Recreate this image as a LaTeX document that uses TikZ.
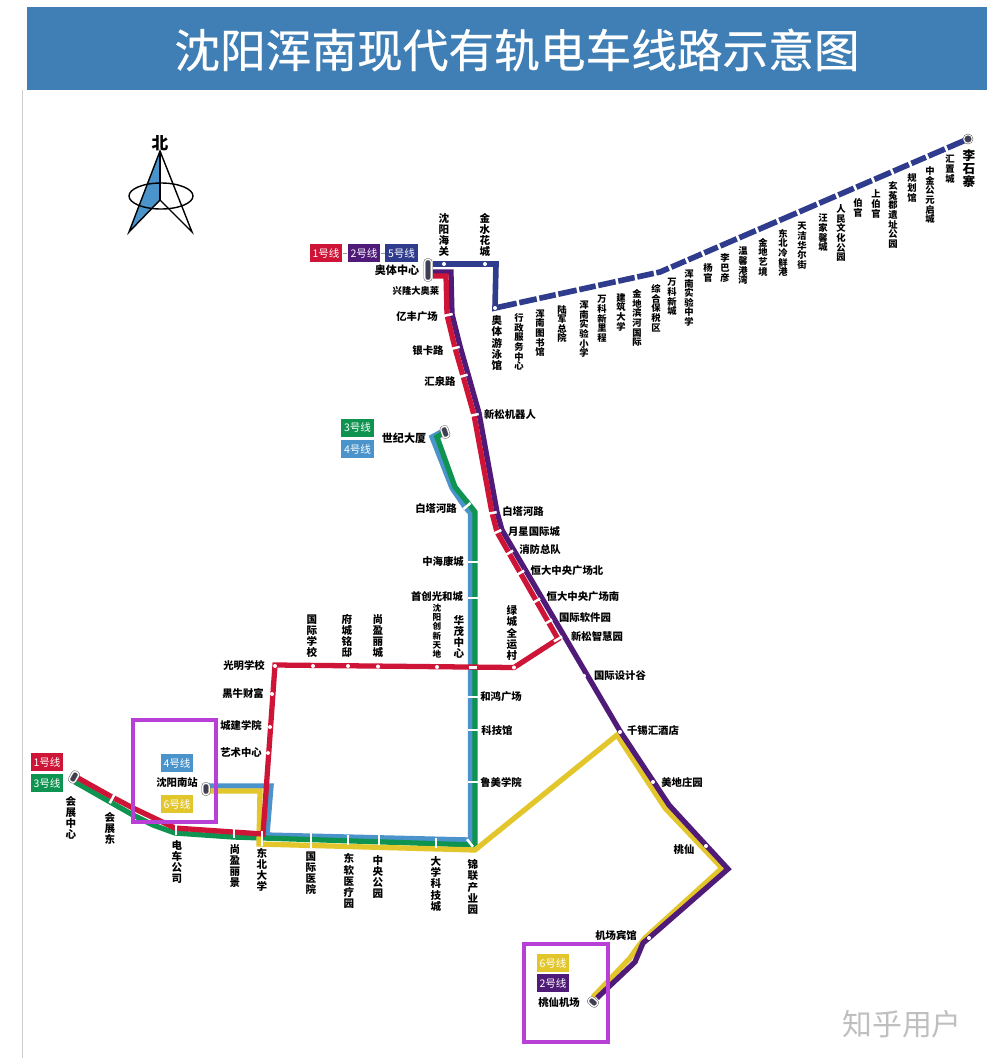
\documentclass[tikz,border=0pt]{standalone}
\usepackage{xcolor}
\usepackage{fontspec}
\newfontfamily\cjk{Noto Sans CJK SC}
\newfontfamily\cjkfat[FakeBold=0.5]{Noto Sans CJK SC}
\XeTeXlinebreaklocale "zh"
\XeTeXlinebreakskip=0pt plus 1pt
\definecolor{myheader}{HTML}{3F7FB5}
\definecolor{myred}{HTML}{CE1437}
\definecolor{mypurple}{HTML}{4F1A78}
\definecolor{mynavy}{HTML}{2F3B8C}
\definecolor{mygreen}{HTML}{0F9350}
\definecolor{mysky}{HTML}{4A93CB}
\definecolor{myyellow}{HTML}{E3C62B}
\definecolor{mymagenta}{HTML}{B840D6}
\definecolor{mycapsule}{HTML}{3E3E55}
\begin{document}
\begin{tikzpicture}[x=0.02cm,y=-0.02cm]
	\tikzset{% This is the style settings for lines, stops and labels
		linebase/.style={line width=3pt},
		lineone/.style={linebase,draw=myred},
		linetwo/.style={linebase,draw=mypurple},
		linethree/.style={linebase,draw=mygreen},
		linefour/.style={linebase,draw=mysky},
		linefive/.style={linebase,line width=3.2pt,draw=mynavy},
		linesix/.style={linebase,draw=myyellow},
		tick/.style={rectangle,fill=white,minimum width=0.05cm,minimum height=0.19cm,inner sep=0pt},
		dot/.style={circle,fill=white,minimum size=0.08cm,inner sep=0pt},
		capsule/.style={rectangle,rounded corners=0.05cm,fill=mycapsule,draw=black!60,line width=0.3pt,double=white,double distance=0.7pt,minimum width=0.13cm,minimum height=0.22cm,inner sep=0pt},
		hlabel/.style={inner sep=0pt,font=\cjk\bfseries\fontsize{5.9}{6.2}\selectfont},
		hsmall/.style={inner sep=0pt,font=\cjk\bfseries\fontsize{5.3}{6}\selectfont},
		vlabel/.style={inner sep=0pt,text width=7pt,align=center,font=\cjk\bfseries\fontsize{6}{6.3}\selectfont},
		vsmall/.style={inner sep=0pt,text width=7pt,align=center,font=\cjk\bfseries\fontsize{5.3}{5.5}\selectfont},
		badge/.style={minimum width=0.65cm,minimum height=0.36cm,inner sep=0pt,text=white,font=\cjk\fontsize{6}{6}\selectfont},
		framebox/.style={draw=mymagenta,line width=1.8pt}}
	\useasboundingbox (0,0) rectangle (988,1058);
	\fill[white] (0,0) rectangle (988,1058);
	\draw[black!20,line width=0.5pt] (22,90) -- (22,1058);

	\node[fill=myheader,minimum width=19.2cm,minimum height=1.66cm,inner sep=0pt] (header) at (507,48.5) {};
	\node[text=white,inner sep=0pt,font=\cjkfat\fontsize{26}{26}\selectfont] (title) at (517,50) {沈阳浑南现代有轨电车线路示意图};

	% north arrow
	\node[inner sep=0pt,font=\cjk\bfseries\fontsize{9.5}{9.5}\selectfont] (north) at (160,143) {北};
	\coordinate (tip) at (160,151);
	\coordinate (hub) at (160,200);
	\coordinate (footl) at (129,232);
	\coordinate (footr) at (192,232);
	\fill[mysky] (tip) -- (footl) -- (hub) -- cycle;
	\draw[line width=0.8pt] (161,196) ellipse (32 and 13);
	\draw[line width=0.8pt] (footl) -- (tip) -- (footr) -- (hub) -- cycle;
	\draw[line width=0.8pt] (tip) -- (hub);

	% way points
	\coordinate (n1) at (433,264);
	\coordinate (n2) at (496,264);
	\coordinate (n3) at (495,308);
	\coordinate (n4) at (660,272);
	\coordinate (n5) at (968,139);
	\coordinate (r1) at (78,778);
	\coordinate (r2) at (112,797);
	\coordinate (r3) at (133,808);
	\coordinate (r4) at (175,828);
	\coordinate (r5) at (233,832);
	\coordinate (r6) at (263,834);
	\coordinate (r7) at (275,665);
	\coordinate (r8) at (514,667.5);
	\coordinate (r9) at (558,639);
	\coordinate (r10) at (497,532);
	\coordinate (r11) at (492,513);
	\coordinate (r12) at (474,415);
	\coordinate (r13) at (463,376);
	\coordinate (r14) at (455,348);
	\coordinate (r15) at (447,315);
	\coordinate (r16) at (446,276);
	\coordinate (r17) at (433,276);
	\coordinate (p1) at (433,272);
	\coordinate (p2) at (451,272);
	\coordinate (p3) at (452,314);
	\coordinate (p4) at (460,346);
	\coordinate (p5) at (468,374);
	\coordinate (p6) at (479,413);
	\coordinate (p7) at (497,512);
	\coordinate (p8) at (502,530);
	\coordinate (p9) at (620,731);
	\coordinate (p10) at (669,805);
	\coordinate (p11) at (728,869);
	\coordinate (p12) at (649,938);
	\coordinate (p13) at (643,943);
	\coordinate (p14) at (635,962);
	\coordinate (p15) at (597,998);
	\coordinate (g1) at (75,782);
	\coordinate (g2) at (133,815);
	\coordinate (g3) at (153,825);
	\coordinate (g4) at (175,833);
	\coordinate (g5) at (233,837);
	\coordinate (g6) at (475,845);
	\coordinate (g7) at (475,512);
	\coordinate (g8) at (468,503);
	\coordinate (g9) at (455,487);
	\coordinate (g10) at (437,437);
	\coordinate (g11) at (445,432);
	\coordinate (b1) at (208,786);
	\coordinate (b2) at (271,786);
	\coordinate (b3) at (267,835);
	\coordinate (b4) at (470.5,840);
	\coordinate (b5) at (470.5,513);
	\coordinate (b6) at (465,507);
	\coordinate (b7) at (452,488);
	\coordinate (b8) at (432,437);
	\coordinate (b9) at (443,431);
	\coordinate (y1) at (208,791);
	\coordinate (y2) at (260,791);
	\coordinate (y3) at (259,844);
	\coordinate (y4) at (475,850);
	\coordinate (y5) at (617,735);
	\coordinate (y6) at (665,808);
	\coordinate (y7) at (722,868);
	\coordinate (y8) at (645,938);
	\coordinate (y9) at (637,948);
	\coordinate (y10) at (630,958);
	\coordinate (y11) at (593,997);

	% lines
	\draw[linefive] (n1) -- (n2) -- (n3) -- (n4) -- (n5);
	\draw[linefour] (b1) -- (b2) -- (b3) -- (b4) -- (b5) -- (b6) -- (b7) -- (b8) -- (b9);
	\draw[linethree] (g1) -- (g2) -- (g3) -- (g4) -- (g5) -- (g6) -- (g7) -- (g8) -- (g9) -- (g10) -- (g11);
	\draw[linesix] (y1) -- (y2) -- (y3) -- (y4) -- (y5) -- (y6) -- (y7) -- (y8) -- (y9) -- (y10) -- (y11);
	\draw[linetwo] (p1) -- (p2) -- (p3) -- (p4) -- (p5) -- (p6) -- (p7) -- (p8) -- (p9) -- (p10) -- (p11) -- (p12) -- (p13) -- (p14) -- (p15);
	\draw[lineone] (r1) -- (r2) -- (r3) -- (r4) -- (r5) -- (r6) -- (r7) -- (r8) -- (r9) -- (r10) -- (r11) -- (r12) -- (r13) -- (r14) -- (r15) -- (r16) -- (r17);

	% terminals
	\node[capsule,minimum height=0.42cm] (aoti) at (428,270) {};
	\node[capsule,rotate=18] (shiji) at (445,432) {};
	\node[capsule,rotate=-30] (huizhan) at (74,777) {};
	\node[capsule] (nanzhan) at (206,789) {};
	\node[capsule,rotate=50,minimum height=0.19cm] (taoxian) at (593,1002) {};
	\node[circle,fill=mycapsule,draw=black!60,line width=0.3pt,double=white,double distance=0.5pt,minimum size=0.17cm,inner sep=0pt] (lishi) at (968,139) {};

	% stops of the long line
	\node[dot] (e1) at (444,264) {};
	\node[dot] (e2) at (485,264) {};
	\node[dot] (e3) at (495,308) {};
	\node[tick,rotate=12] (e4) at (518,303) {};
	\node[tick,rotate=12] (e5) at (538,298.6) {};
	\node[tick,rotate=12] (e6) at (557,294.5) {};
	\node[tick,rotate=12] (e7) at (578,290) {};
	\node[tick,rotate=12] (e8) at (597,286) {};
	\node[tick,rotate=12] (e9) at (617,281.7) {};
	\node[tick,rotate=12] (e10) at (636,277.5) {};
	\node[tick,rotate=12] (e11) at (655,273) {};
	\node[tick,rotate=23] (e12) at (670,267.7) {};
	\node[tick,rotate=23] (e13) at (687,260.3) {};
	\node[tick,rotate=23] (e14) at (703,253.4) {};
	\node[tick,rotate=23] (e15) at (719,246.4) {};
	\node[tick,rotate=23] (e16) at (738,238.2) {};
	\node[tick,rotate=23] (e17) at (757,230) {};
	\node[tick,rotate=23] (e18) at (778,220.9) {};
	\node[tick,rotate=23] (e19) at (798,212.2) {};
	\node[tick,rotate=23] (e20) at (818,203.6) {};
	\node[tick,rotate=23] (e21) at (837,195.3) {};
	\node[tick,rotate=23] (e22) at (855,187.5) {};
	\node[tick,rotate=23] (e23) at (873,179.7) {};
	\node[tick,rotate=23] (e24) at (892,171.5) {};
	\node[tick,rotate=23] (e25) at (910,163.7) {};
	\node[tick,rotate=23] (e26) at (927,156.3) {};
	\node[tick,rotate=23] (e27) at (946,148.1) {};

	% labels of the long line
	\node[vlabel] (t1) at (444,235) {沈阳海关};
	\node[vlabel] (t2) at (485,235) {金水花城};
	\node[vlabel] (t3) at (497,343) {奥体游泳馆};
	\node[vsmall] (t4) at (519,342) {行政服务中心};
	\node[vsmall] (t5) at (540,333) {浑南图书馆};
	\node[vsmall] (t6) at (562,324) {陆军总院};
	\node[vsmall] (t7) at (584,329) {浑南实验小学};
	\node[vsmall] (t8) at (602,319) {万科新里程};
	\node[vsmall] (t9) at (621,312) {建筑大学};
	\node[vsmall] (t10) at (637,318) {金地滨河国际};
	\node[vsmall] (t11) at (656,308) {综合保税区};
	\node[vsmall] (t12) at (672,297) {万科新城};
	\node[vsmall] (t13) at (689,298) {浑南实验中学};
	\node[vsmall] (t14) at (708,273) {杨官};
	\node[vsmall] (t15) at (725,268) {李巴彦};
	\node[vsmall] (t16) at (743,266) {温馨港湾};
	\node[vsmall] (t17) at (763,257) {金地艺境};
	\node[vsmall] (t18) at (783,253) {东北冷鲜港};
	\node[vsmall] (t19) at (802,246) {天洁华尔街};
	\node[vsmall] (t20) at (823,233) {汪家馨城};
	\node[vsmall] (t21) at (841,233) {人民文化公园};
	\node[vsmall] (t22) at (858,208) {伯官};
	\node[vsmall] (t23) at (876,204) {上伯官};
	\node[vsmall] (t24) at (893,215) {玄菟郡遗址公园};
	\node[vsmall] (t25) at (912,188) {规划馆};
	\node[vsmall] (t26) at (930,195) {中金公元启城};
	\node[vsmall] (t27) at (950,169) {汇置城};
	\node[inner sep=0pt,text width=8pt,align=center,font=\cjk\bfseries\fontsize{7.2}{7.4}\selectfont] (t28) at (969,169) {李石寨};

	% stops of the red and purple lines
	\node[tick,minimum height=0.14cm,minimum width=0.06cm,rotate=90,fill=none,draw=myred,line width=0.3pt] (a1) at (438,276) {};
	\node[tick,rotate=-78] (a2) at (448,315) {};
	\node[tick,rotate=-76] (a3) at (455,348) {};
	\node[tick,rotate=-74] (a4) at (463,376) {};
	\node[tick,rotate=-78] (a5) at (474,415) {};
	\node[tick,rotate=-80] (a6) at (492,513) {};
	\node[tick,rotate=-65] (a7) at (497,532) {};
	\node[tick,rotate=-60] (a8) at (509,553) {};
	\node[tick,rotate=-60] (a9) at (520,573) {};
	\node[tick,rotate=-60] (a10) at (536,601) {};
	\node[tick,rotate=-60] (a11) at (548,622) {};
	\node[tick,rotate=-60] (a12) at (558,639) {};
	\node[dot] (a13) at (584,676) {};
	\node[dot] (a14) at (620,732) {};
	\node[dot] (a15) at (653,782) {};
	\node[dot] (a16) at (706,846) {};
	\node[dot] (a17) at (649,938) {};

	\node[hsmall] (u1) at (416,291) {兴隆大奥莱};
	\node[hlabel] (u2) at (417,317) {亿丰广场};
	\node[hlabel] (u3) at (428,351) {银卡路};
	\node[hlabel] (u4) at (440,382) {汇泉路};
	\node[hlabel] (u5) at (510,415) {新松机器人};
	\node[hlabel] (u6) at (523,512) {白塔河路};
	\node[hlabel] (u7) at (534,532) {月星国际城};
	\node[hlabel] (u8) at (540,550) {消防总队};
	\node[hlabel] (u9) at (567,571) {恒大中央广场北};
	\node[hlabel] (u10) at (583,597) {恒大中央广场南};
	\node[hlabel] (u11) at (585,618) {国际软件园};
	\node[hlabel] (u12) at (597,637) {新松智慧园};
	\node[hlabel] (u13) at (620,676) {国际设计谷};
	\node[hlabel] (u14) at (653,731) {千锡汇酒店};
	\node[hlabel] (u15) at (682,782) {美地庄园};
	\node[hlabel] (u16) at (684,850) {桃仙};
	\node[hlabel] (u17) at (616,936) {机场宾馆};
	\node[hlabel] (u18) at (559,1003) {桃仙机场};
	\node[hlabel,font=\cjk\bfseries\fontsize{6.3}{6.5}\selectfont] (u19) at (397,270) {奥体中心};

	% stops of the red line in the west
	\node[dot] (w1) at (275,666) {};
	\node[dot] (w2) at (272,694) {};
	\node[dot] (w3) at (270,727) {};
	\node[dot] (w4) at (268,753) {};
	\node[dot] (w5) at (313,666) {};
	\node[dot] (w6) at (348,666) {};
	\node[dot] (w7) at (378,666.5) {};
	\node[dot] (w8) at (437,667) {};
	\node[dot] (w9) at (514,667.5) {};
	\node[tick,minimum height=0.16cm,minimum width=0.06cm,rotate=90] (w10) at (473,667) {};

	\node[hlabel] (v1) at (244,666) {光明学校};
	\node[hlabel] (v2) at (243,694) {黑牛财富};
	\node[hlabel] (v3) at (241,726) {城建学院};
	\node[hlabel] (v4) at (241,753) {艺术中心};
	\node[vlabel] (v5) at (312,636) {国际学校};
	\node[vlabel] (v6) at (347,636) {府城铭邸};
	\node[vlabel] (v7) at (378,636) {尚盈丽城};
	\node[vsmall,font=\cjk\bfseries\fontsize{4.9}{5.3}\selectfont] (v8) at (437,631) {沈阳创新天地};
	\node[vlabel] (v9) at (459,637) {华茂中心};
	\node[vlabel] (v10) at (512,633) {绿城全运村};

	% stops of the green and blue lines
	\node[tick,rotate=-50] (c1) at (467,506) {};
	\node[tick,rotate=90] (c2) at (473,562) {};
	\node[tick,rotate=90] (c3) at (473,598) {};
	\node[tick,rotate=90] (c4) at (473,697) {};
	\node[tick,rotate=90] (c5) at (473,730) {};
	\node[tick,rotate=90] (c6) at (473,782) {};
	\node[tick,rotate=38] (c7) at (470,843) {};
	\node[tick] (c8) at (436,843) {};
	\node[tick] (c9) at (379,840) {};
	\node[tick] (c10) at (348,840) {};
	\node[tick,minimum height=0.3cm] (c11) at (311,840) {};
	\node[tick,minimum height=0.3cm] (c12) at (262,838) {};
	\node[tick] (c13) at (234,833) {};
	\node[tick] (c14) at (176,830) {};
	\node[tick,rotate=-28] (c15) at (112,799) {};

	\node[hlabel,font=\cjk\bfseries\fontsize{6.3}{6.5}\selectfont] (x1) at (404,438) {世纪大厦};
	\node[hlabel] (x2) at (436,509) {白塔河路};
	\node[hlabel] (x3) at (443,562) {中海康城};
	\node[hlabel] (x4) at (437,597) {首创光和城};
	\node[hlabel] (x5) at (501,697) {和鸿广场};
	\node[hlabel] (x6) at (497,731) {科技馆};
	\node[hlabel] (x7) at (501,782) {鲁美学院};
	\node[hlabel] (x8) at (177,783) {沈阳南站};
	\node[vlabel] (x9) at (71,818) {会展中心};
	\node[vlabel] (x10) at (110,828) {会展东};
	\node[vlabel] (x11) at (177,862) {电车公司};
	\node[vlabel] (x12) at (235,866) {尚盈丽景};
	\node[vlabel] (x13) at (262,870) {东北大学};
	\node[vlabel] (x14) at (311,873) {国际医院};
	\node[vlabel] (x15) at (349,881) {东软医疗园};
	\node[vlabel] (x16) at (378,877) {中央公园};
	\node[vlabel] (x17) at (436,884) {大学科技城};
	\node[vlabel] (x18) at (473,887) {锦联产业园};

	% line badges
	\node[badge,fill=myred] (k1) at (326,253) {1号线};
	\node[badge,fill=mypurple] (k2) at (364,253) {2号线};
	\node[badge,fill=mynavy] (k3) at (401.5,253) {5号线};
	\draw[black!40,line width=0.4pt] (k1) -- (k2);
	\draw[black!40,line width=0.4pt] (k2) -- (k3);
	\node[badge,fill=mygreen] (k4) at (357.5,427.5) {3号线};
	\node[badge,fill=mysky] (k5) at (357.5,449) {4号线};
	\node[badge,fill=myred] (k6) at (47,762) {1号线};
	\node[badge,fill=mygreen] (k7) at (47,783) {3号线};
	\node[badge,fill=mysky] (k8) at (177,763) {4号线};
	\node[badge,fill=myyellow] (k9) at (177,804) {6号线};
	\node[badge,fill=myyellow] (k10) at (553,963) {6号线};
	\node[badge,fill=mypurple] (k11) at (553,983) {2号线};

	% frames and mark
	\draw[framebox] (133,720) rectangle (216,822);
	\draw[framebox] (524,944) rectangle (608,1042);
	\node[inner sep=0pt,text=black!25,font=\cjk\fontsize{17}{17}\selectfont] (mark) at (902,1024) {知乎用户};
\end{tikzpicture}
\end{document}
